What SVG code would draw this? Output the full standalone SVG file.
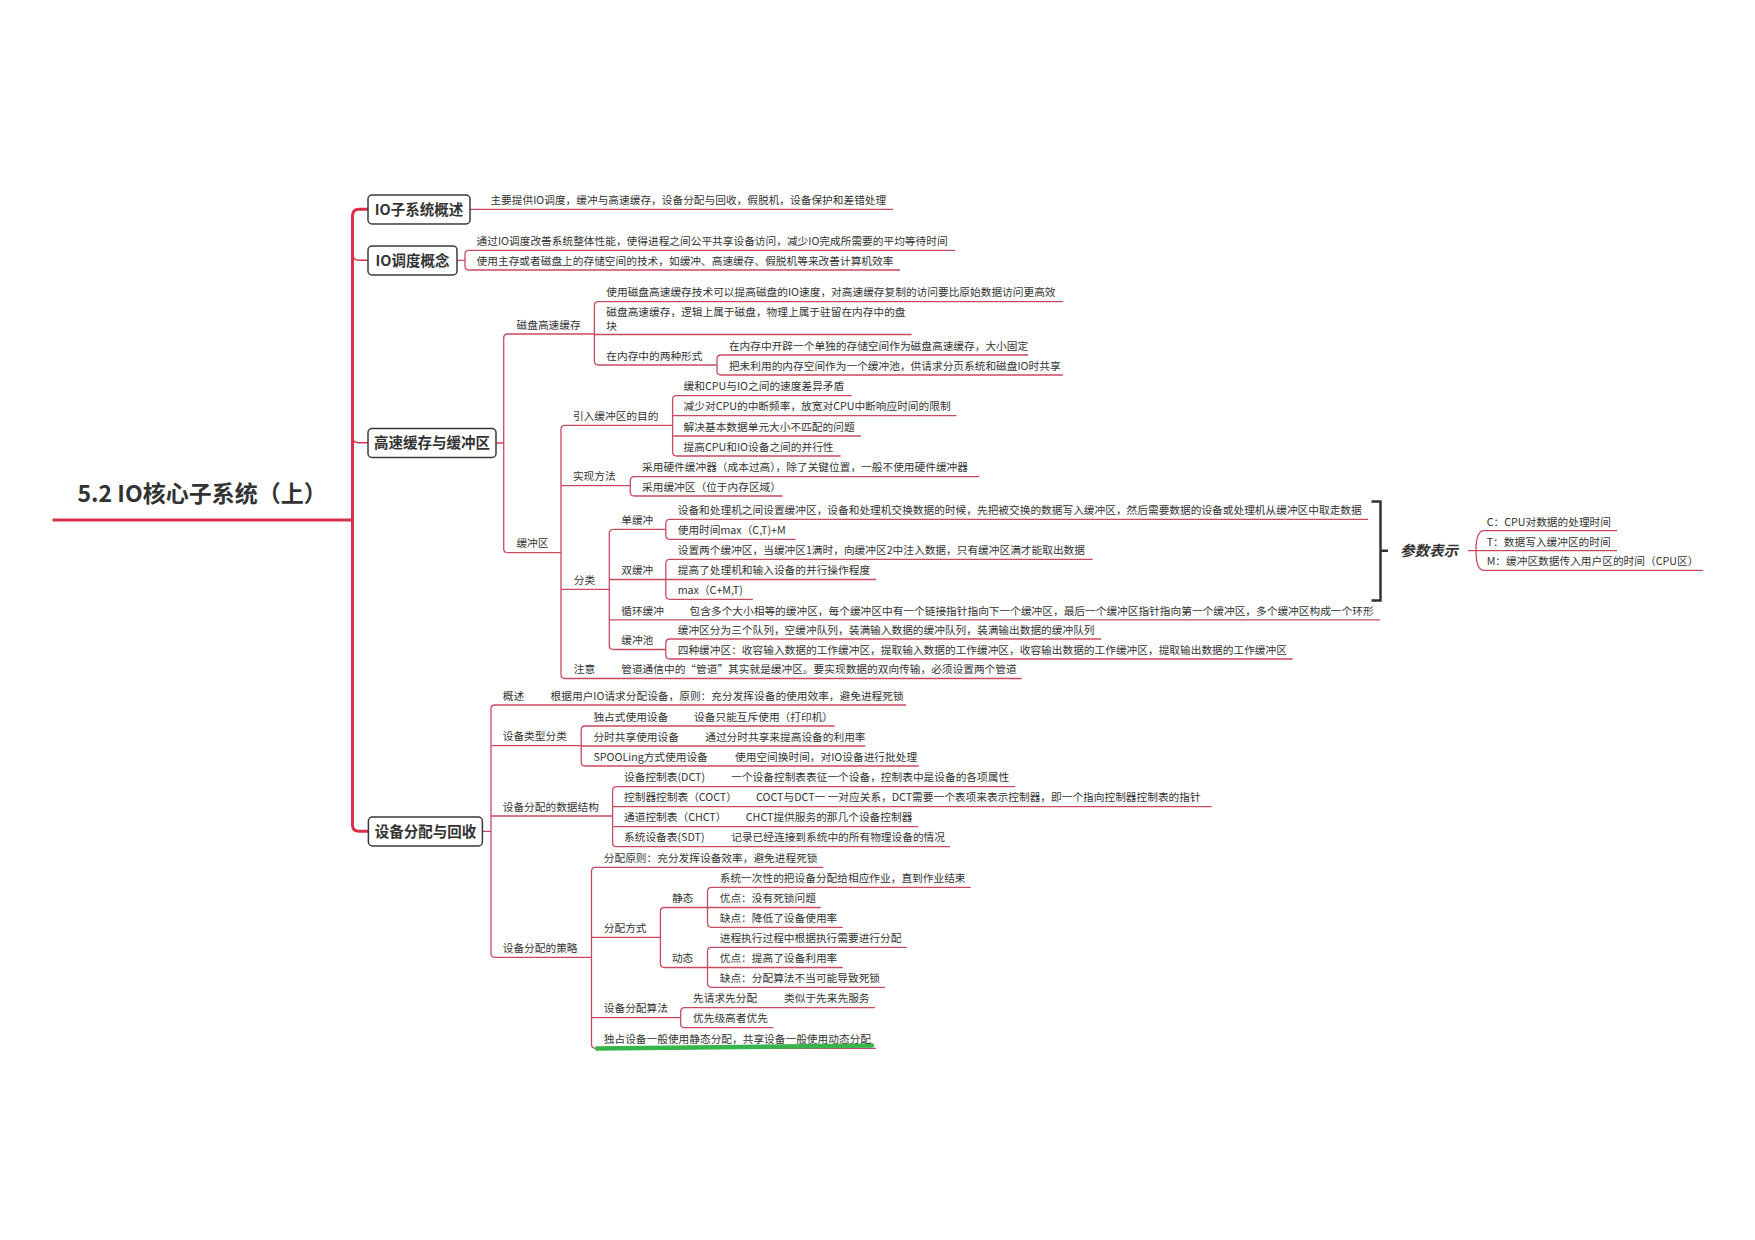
<svg xmlns="http://www.w3.org/2000/svg" width="1755" height="1240" viewBox="0 0 1755 1240">
<style>
text{font-family:"Noto Sans CJK SC","Microsoft YaHei","Noto Sans",sans-serif;fill:#333}
.t{font-size:10.7px}
.b{font-size:14.5px;font-weight:bold;text-anchor:middle}
.title{font-size:23px;font-weight:bold}
.p{font-size:14.5px;font-weight:bold;font-style:italic}
.box{fill:#fff;stroke:#3a3a3a;stroke-width:1.5}
.ln{fill:none;stroke:#c94a60;stroke-width:1.3}
.tr{fill:none;stroke:#d7304a;stroke-width:3}
.st{fill:none;stroke:#d7304a;stroke-width:1.5}
.br{fill:none;stroke:#333;stroke-width:2.5}
.hl{fill:none;stroke:#36b54a;stroke-width:4.5;stroke-linecap:round}
</style>
<rect width="1755" height="1240" fill="#fff"/>
<g id="connectors">
<path class="tr" d="M52.5,520 H352.5"/>
<path class="tr" d="M368,209.3 H359 Q352.5,209.3 352.5,216 V825 Q352.5,831.3 359,831.3 H368.4"/>
<path class="st" d="M352.5,254 Q352.5,260.3 359,260.3 H368"/>
<path class="st" d="M352.5,436.5 Q352.5,442.8 359,442.8 H368"/>
<path class="ln" d="M470,209.3 H893"/>
<path class="ln" d="M457,260.3 H465 M469,250.3 Q465,250.3 465,254.3 V266 Q465,270 469,270 M469,250.3 H955 M469,270 H900"/>
<path class="ln" d="M496,443 H503.7 M507.7,334 Q503.7,334 503.7,338 V548.7 Q503.7,552.7 507.7,552.7 M507.7,334 H594.4"/>
<path class="ln" d="M598.4,301.7 Q594.4,301.7 594.4,305.7 V361 Q594.4,365 598.4,365 M598.4,301.7 H1063 M594.4,334.5 H911.6 M598.4,365 H717"/>
<path class="ln" d="M721,355 Q717,355 717,359 V371 Q717,375 721,375 M721,355 H1028 M721,375 H1063"/>
<path class="ln" d="M507.7,552.7 H561 M565,425.3 Q561,425.3 561,429.3 V674.5 Q561,678.5 565,678.5 M565,425.3 H672.6"/>
<path class="ln" d="M676.6,395.7 Q672.6,395.7 672.6,399.7 V452 Q672.6,456 676.6,456 M676.6,395.7 H851.7 M672.6,415.7 H956.5 M672.6,436 H860.8 M676.6,456 H840.6"/>
<path class="ln" d="M561,485.7 H630.3 M634.3,476.7 Q630.3,476.7 630.3,480.7 V492 Q630.3,496 634.3,496 M634.3,476.7 H979 M634.3,496 H782.5"/>
<path class="ln" d="M561,589.3 H609.3 M613.3,529.3 Q609.3,529.3 609.3,533.3 V645.5 Q609.3,649.5 613.3,649.5"/>
<path class="ln" d="M613.3,529.3 H665.8 M669.8,519.3 Q665.8,519.3 665.8,523.3 V535.3 Q665.8,539.3 669.8,539.3 M669.8,519.3 H1368 M669.8,539.3 H795.5"/>
<path class="ln" d="M609.3,579.5 H876.2 M669.8,559.3 Q665.8,559.3 665.8,563.3 V595.3 Q665.8,599.3 669.8,599.3 M669.8,559.3 H1092.7 M669.8,599.3 H752.8"/>
<path class="ln" d="M609.3,619.8 H1380"/>
<path class="ln" d="M613.3,649.5 H665.8 M669.8,639 Q665.8,639 665.8,643 V655 Q665.8,659 669.8,659 M669.8,639 H1101 M669.8,659 H1292.7"/>
<path class="ln" d="M565,678.5 H1021.7"/>
<path class="br" d="M1371.5,501.5 H1380.5 V600.5 H1371.5 M1380.5,550.7 H1388"/>
<path class="ln" d="M1468,550.7 H1617 M1484,530.7 Q1476,530.7 1476,550.7 Q1476,570.3 1484,570.3 M1484,530.7 H1617 M1484,570.3 H1703"/>
<path class="ln" d="M482.5,831.3 H491 M495,705 Q491,705 491,709 V953.3 Q491,957.3 495,957.3 M495,705 H906"/>
<path class="ln" d="M491,745.7 H581.2 M585.2,726 Q581.2,726 581.2,730 V762 Q581.2,766 585.2,766 M585.2,726 H834.6 M581.2,746 H865.2 M585.2,766 H918.7"/>
<path class="ln" d="M491,816 H612.6 M616.6,786.7 Q612.6,786.7 612.6,790.7 V842.7 Q612.6,846.7 616.6,846.7 M616.6,786.7 H1015 M612.6,806.7 H1211.7 M612.6,826.7 H918.3 M616.6,846.7 H950"/>
<path class="ln" d="M495,957.3 H591.5 M595.5,867.3 Q591.5,867.3 591.5,871.3 V1044.3 Q591.5,1048.3 595.5,1048.3 M595.5,867.3 H823.1 M591.5,937.3 H660.4 M591.5,1017.7 H680.7 M595.5,1048.3 H876"/>
<path class="ln" d="M664.4,907.5 Q660.4,907.5 660.4,911.5 V963.5 Q660.4,967.5 664.4,967.5 M664.4,907.5 H820.7 M664.4,967.5 H842.7"/>
<path class="ln" d="M711.5,887.3 Q707.5,887.3 707.5,891.3 V923.3 Q707.5,927.3 711.5,927.3 M711.5,887.3 H970.7 M711.5,927.3 H842.7"/>
<path class="ln" d="M711.5,947.3 Q707.5,947.3 707.5,951.3 V983.3 Q707.5,987.3 711.5,987.3 M711.5,947.3 H906.7 M711.5,987.3 H885"/>
<path class="ln" d="M684.7,1007.7 Q680.7,1007.7 680.7,1011.7 V1023.7 Q680.7,1027.7 684.7,1027.7 M684.7,1007.7 H875 M684.7,1027.7 H773.3"/>
<path class="hl" d="M597,1048.5 Q735,1046.5 872,1045.5"/>
</g>
<g id="root"><text class="title" x="77.5" y="501.7">5.2 IO核心子系统（上）</text></g>
<g id="n-overview"><rect class="box" x="368" y="195" width="102" height="29" rx="4"/><text class="b" x="419" y="214.5">IO子系统概述</text></g>
<g id="n-overview-d"><text class="t" x="490.4" y="204">主要提供IO调度，缓冲与高速缓存，设备分配与回收，假脱机，设备保护和差错处理</text></g>
<g id="n-sched"><rect class="box" x="368" y="246" width="89" height="29" rx="4"/><text class="b" x="412.5" y="265.5">IO调度概念</text></g>
<g id="n-sched-1"><text class="t" x="476.6" y="245">通过IO调度改善系统整体性能，使得进程之间公平共享设备访问，减少IO完成所需要的平均等待时间</text></g>
<g id="n-sched-2"><text class="t" x="476.6" y="264.7">使用主存或者磁盘上的存储空间的技术，如缓冲、高速缓存、假脱机等来改善计算机效率</text></g>
<g id="n-cache"><rect class="box" x="368" y="428.5" width="128" height="29" rx="4"/><text class="b" x="432" y="448">高速缓存与缓冲区</text></g>
<g id="n-disk"><text class="t" x="516.5" y="328.7">磁盘高速缓存</text></g>
<g id="n-disk-1"><text class="t" x="606.3" y="296.4">使用磁盘高速缓存技术可以提高磁盘的IO速度，对高速缓存复制的访问要比原始数据访问更高效</text></g>
<g id="n-disk-2"><text class="t" x="606.3" y="316">磁盘高速缓存，逻辑上属于磁盘，物理上属于驻留在内存中的盘</text><text class="t" x="606.3" y="330">块</text></g>
<g id="n-disk-3"><text class="t" x="606.3" y="359.7">在内存中的两种形式</text></g>
<g id="n-disk-3a"><text class="t" x="728.9" y="349.7">在内存中开辟一个单独的存储空间作为磁盘高速缓存，大小固定</text></g>
<g id="n-disk-3b"><text class="t" x="728.9" y="369.7">把未利用的内存空间作为一个缓冲池，供请求分页系统和磁盘IO时共享</text></g>
<g id="n-buf"><text class="t" x="516.4" y="547.4">缓冲区</text></g>
<g id="n-purpose"><text class="t" x="572.9" y="420">引入缓冲区的目的</text></g>
<g id="n-purpose-1"><text class="t" x="683.6" y="390.4">缓和CPU与IO之间的速度差异矛盾</text></g>
<g id="n-purpose-2"><text class="t" x="683.6" y="410.4">减少对CPU的中断频率，放宽对CPU中断响应时间的限制</text></g>
<g id="n-purpose-3"><text class="t" x="683.6" y="430.7">解决基本数据单元大小不匹配的问题</text></g>
<g id="n-purpose-4"><text class="t" x="683.6" y="450.7">提高CPU和IO设备之间的并行性</text></g>
<g id="n-impl"><text class="t" x="572.9" y="480.4">实现方法</text></g>
<g id="n-impl-1"><text class="t" x="642" y="471.4">采用硬件缓冲器（成本过高），除了关键位置，一般不使用硬件缓冲器</text></g>
<g id="n-impl-2"><text class="t" x="642" y="490.7">采用缓冲区（位于内存区域）</text></g>
<g id="n-class"><text class="t" x="573.7" y="584">分类</text></g>
<g id="n-single"><text class="t" x="621.2" y="524">单缓冲</text></g>
<g id="n-single-1"><text class="t" x="677.7" y="514">设备和处理机之间设置缓冲区，设备和处理机交换数据的时候，先把被交换的数据写入缓冲区，然后需要数据的设备或处理机从缓冲区中取走数据</text></g>
<g id="n-single-2"><text class="t" x="677.7" y="534">使用时间max（C,T)+M</text></g>
<g id="n-double"><text class="t" x="621.2" y="574.2">双缓冲</text></g>
<g id="n-double-1"><text class="t" x="677.7" y="554">设置两个缓冲区，当缓冲区1满时，向缓冲区2中注入数据，只有缓冲区满才能取出数据</text></g>
<g id="n-double-2"><text class="t" x="677.7" y="574.2">提高了处理机和输入设备的并行操作程度</text></g>
<g id="n-double-3"><text class="t" x="677.7" y="594">max（C+M,T)</text></g>
<g id="n-ring"><text class="t" x="621.2" y="614.5">循环缓冲</text><text class="t" x="689.6" y="614.5">包含多个大小相等的缓冲区，每个缓冲区中有一个链接指针指向下一个缓冲区，最后一个缓冲区指针指向第一个缓冲区，多个缓冲区构成一个环形</text></g>
<g id="n-pool"><text class="t" x="621.2" y="644.2">缓冲池</text></g>
<g id="n-pool-1"><text class="t" x="677.7" y="633.7">缓冲区分为三个队列，空缓冲队列，装满输入数据的缓冲队列，装满输出数据的缓冲队列</text></g>
<g id="n-pool-2"><text class="t" x="677.7" y="653.7">四种缓冲区：收容输入数据的工作缓冲区，提取输入数据的工作缓冲区，收容输出数据的工作缓冲区，提取输出数据的工作缓冲区</text></g>
<g id="n-note"><text class="t" x="573.7" y="673.2">注意</text><text class="t" x="621.2" y="673.2">管道通信中的“管道”其实就是缓冲区。要实现数据的双向传输，必须设置两个管道</text></g>
<g id="n-param"><text class="p" x="1400" y="555.7">参数表示</text></g>
<g id="n-param-c"><text class="t" x="1486.7" y="525.5">C：CPU对数据的处理时间</text></g>
<g id="n-param-t"><text class="t" x="1486.7" y="545.5">T：数据写入缓冲区的时间</text></g>
<g id="n-param-m"><text class="t" x="1486.7" y="565">M：缓冲区数据传入用户区的时间（CPU区）</text></g>
<g id="n-dev"><rect class="box" x="368.4" y="817" width="114" height="29" rx="4"/><text class="b" x="425.4" y="836.5">设备分配与回收</text></g>
<g id="n-dev-ov"><text class="t" x="502.7" y="699.7">概述</text><text class="t" x="550.6" y="699.7">根据用户IO请求分配设备，原则：充分发挥设备的使用效率，避免进程死锁</text></g>
<g id="n-devtype"><text class="t" x="502.7" y="740.4">设备类型分类</text></g>
<g id="n-devtype-1"><text class="t" x="593.4" y="720.7">独占式使用设备</text><text class="t" x="694.1" y="720.7">设备只能互斥使用（打印机）</text></g>
<g id="n-devtype-2"><text class="t" x="593.4" y="740.7">分时共享使用设备</text><text class="t" x="705.2" y="740.7">通过分时共享来提高设备的利用率</text></g>
<g id="n-devtype-3"><text class="t" x="593.4" y="760.7">SPOOLing方式使用设备</text><text class="t" x="735" y="760.7">使用空间换时间，对IO设备进行批处理</text></g>
<g id="n-ds"><text class="t" x="502.7" y="810.7">设备分配的数据结构</text></g>
<g id="n-ds-1"><text class="t" x="624" y="781.4">设备控制表(DCT)</text><text class="t" x="731.2" y="781.4">一个设备控制表表征一个设备，控制表中是设备的各项属性</text></g>
<g id="n-ds-2"><text class="t" x="624" y="801.4">控制器控制表（COCT）</text><text class="t" x="756.1" y="801.4">COCT与DCT一 一对应关系，DCT需要一个表项来表示控制器，即一个指向控制器控制表的指针</text></g>
<g id="n-ds-3"><text class="t" x="624" y="821.4">通道控制表（CHCT）</text><text class="t" x="745.8" y="821.4">CHCT提供服务的那几个设备控制器</text></g>
<g id="n-ds-4"><text class="t" x="624" y="841.4">系统设备表(SDT)</text><text class="t" x="731.2" y="841.4">记录已经连接到系统中的所有物理设备的情况</text></g>
<g id="n-strat"><text class="t" x="502.7" y="952">设备分配的策略</text></g>
<g id="n-strat-1"><text class="t" x="603.8" y="862">分配原则：充分发挥设备效率，避免进程死锁</text></g>
<g id="n-mode"><text class="t" x="603.8" y="932">分配方式</text></g>
<g id="n-static"><text class="t" x="671.9" y="902.2">静态</text></g>
<g id="n-static-1"><text class="t" x="719.7" y="882">系统一次性的把设备分配给相应作业，直到作业结束</text></g>
<g id="n-static-2"><text class="t" x="719.7" y="902.2">优点：没有死锁问题</text></g>
<g id="n-static-3"><text class="t" x="719.7" y="922">缺点：降低了设备使用率</text></g>
<g id="n-dyn"><text class="t" x="671.9" y="962.2">动态</text></g>
<g id="n-dyn-1"><text class="t" x="719.7" y="942">进程执行过程中根据执行需要进行分配</text></g>
<g id="n-dyn-2"><text class="t" x="719.7" y="962.2">优点：提高了设备利用率</text></g>
<g id="n-dyn-3"><text class="t" x="719.7" y="982">缺点：分配算法不当可能导致死锁</text></g>
<g id="n-alg"><text class="t" x="603.8" y="1012.4">设备分配算法</text></g>
<g id="n-alg-1"><text class="t" x="693" y="1002.4">先请求先分配</text><text class="t" x="784" y="1002.4">类似于先来先服务</text></g>
<g id="n-alg-2"><text class="t" x="693" y="1022.4">优先级高者优先</text></g>
<g id="n-strat-4"><text class="t" x="603.8" y="1042.8">独占设备一般使用静态分配，共享设备一般使用动态分配</text></g>
</svg>
